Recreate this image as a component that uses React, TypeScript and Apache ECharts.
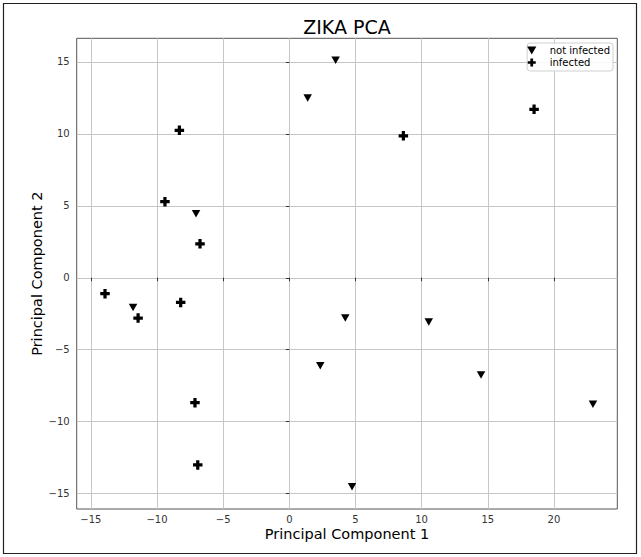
import React, { useEffect, useRef } from "react";
import * as echarts from "echarts";

const notInfectedX = [3.5, 1.39, -7.05, -11.81, 4.23, 10.54, 2.34, 14.49, 22.95, 4.74];
const notInfectedY = [15.1, 12.48, 4.44, -2.06, -2.8, -3.08, -6.11, -6.76, -8.78, -14.51];
const infectedX = [-8.31, 8.62, 18.5, -9.4, -6.75, -13.93, -8.21, -11.43, -7.13, -6.92];
const infectedY = [10.24, 9.86, 11.7, 5.28, 2.36, -1.11, -1.71, -2.8, -8.68, -13.0];
const xTicks = [-15, -10, -5, 0, 5, 10, 15, 20];
const yTicks = [-15, -10, -5, 0, 5, 10, 15];
const seriesNames = ["not infected", "infected"];

const TRI = "path://M0,0 L10,0 L5,8.66 Z";
const PLUS = "path://M3.3,0 L6.7,0 L6.7,3.3 L10,3.3 L10,6.7 L6.7,6.7 L6.7,10 L3.3,10 L3.3,6.7 L0,6.7 L0,3.3 L3.3,3.3 Z";

const FONT = "DejaVu Sans";
const minus = (v: number) => String(v).replace("-", "\u2212");

export default function App() {
  const ref = useRef<HTMLDivElement>(null);
  useEffect(() => {
    if (!ref.current) return;
    const chart = echarts.init(ref.current, undefined, { renderer: "svg" });
    const pairs = (xs: number[], ys: number[]) => xs.map((x, i) => [x, ys[i]]);
    chart.setOption({
      animation: false,
      backgroundColor: "#fff",
      textStyle: { fontFamily: FONT },
      title: {
        text: "ZIKA PCA",
        left: 342,
        textAlign: "center",
        top: 12,
        textStyle: { fontFamily: FONT, fontSize: 19, fontWeight: "normal", color: "#000" },
      },
      graphic: [
        {
          type: "rect",
          shape: { x: 3.5, y: 3.5, width: 633, height: 550 },
          style: { fill: "none", stroke: "#222", lineWidth: 1.2 },
          silent: true,
        },
      ],
      legend: {
        orient: "vertical",
        right: 28,
        top: 43,
        data: seriesNames,
        itemWidth: 26,
        itemHeight: 8,
        itemGap: 1,
        padding: [2, 3, 3, 0],
        backgroundColor: "rgba(255,255,255,0.85)",
        borderColor: "#d0d0d0",
        borderWidth: 1,
        borderRadius: 3,
        textStyle: { fontFamily: FONT, fontSize: 10, color: "#000", lineHeight: 11 },
      },
      grid: {
        left: 76.7,
        right: 23.7,
        top: 38.3,
        bottom: 48,
        show: true,
        borderColor: "#555",
        borderWidth: 1,
        backgroundColor: "transparent",
      },
      xAxis: {
        type: "value",
        min: -16.07,
        max: 24.79,
        name: "Principal Component 1",
        nameLocation: "middle",
        nameGap: 17,
        nameMoveOverlap: false,
        nameTextStyle: { fontFamily: FONT, fontSize: 14.5, color: "#000" },
        axisLine: { show: false },
        axisTick: { show: true, inside: false, length: 3.5, customValues: xTicks, lineStyle: { color: "#333" } },
        axisLabel: { customValues: xTicks, formatter: minus, fontSize: 10, color: "#333", margin: 5, fontFamily: FONT },
        splitLine: { show: true, lineStyle: { color: "#c6c6c6", width: 1 } },
      },
      yAxis: {
        type: "value",
        min: -16.06,
        max: 16.63,
        name: "Principal Component 2",
        nameLocation: "middle",
        nameGap: 32,
        nameMoveOverlap: false,
        nameTextStyle: { fontFamily: FONT, fontSize: 14.5, color: "#000" },
        axisLine: { show: false },
        axisTick: { show: true, inside: false, length: 3.5, customValues: yTicks, lineStyle: { color: "#333" } },
        axisLabel: { customValues: yTicks, formatter: minus, fontSize: 10, color: "#333", margin: 7, fontFamily: FONT },
        splitLine: { show: true, lineStyle: { color: "#c6c6c6", width: 1 } },
      },
      series: [
        {
          name: seriesNames[0],
          type: "scatter",
          symbol: TRI,
          symbolSize: [8.5, 7.5],
          itemStyle: { color: "#000", opacity: 1 },
          data: pairs(notInfectedX, notInfectedY),
        },
        {
          name: seriesNames[1],
          type: "scatter",
          symbol: PLUS,
          symbolSize: 9.5,
          itemStyle: { color: "#000", opacity: 1 },
          data: pairs(infectedX, infectedY),
        },
      ],
    });
    return () => chart.dispose();
  }, []);
  return <div ref={ref} style={{ position: "fixed", left: 0, top: 0, width: 641, height: 557 }} />;
}
